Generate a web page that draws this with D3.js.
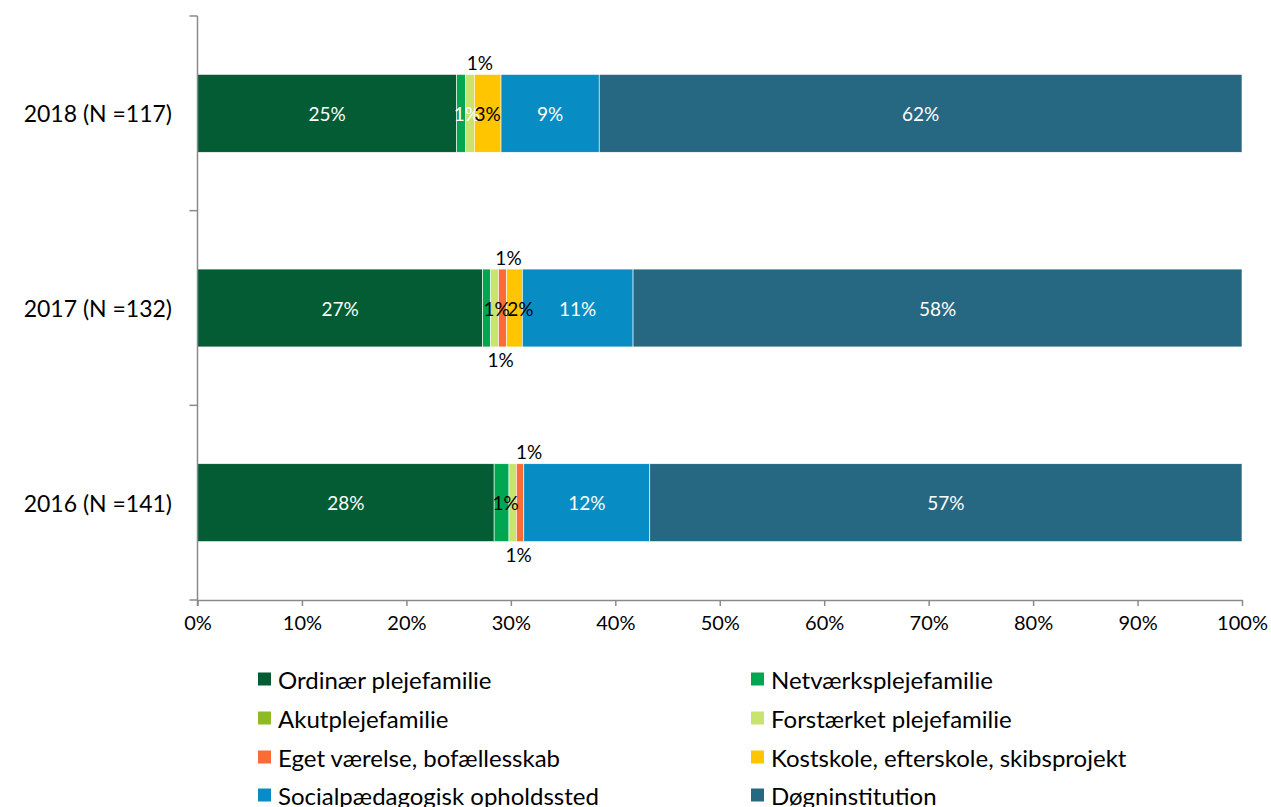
<!DOCTYPE html>
<html>
<head>
<meta charset="utf-8">
<script src="https://cdn.jsdelivr.net/npm/d3@7"></script>
<style>
  html, body { margin: 0; padding: 0; background: #fff; }
  svg { display: block; font-family: Lato, "Open Sans", sans-serif; }
</style>
</head>
<body>
<svg id="chart" width="1271" height="807"></svg>
<script>
// ---- data ----
const categories = ["2018 (N =117)", "2017 (N =132)", "2016 (N =141)"];
const seriesNames = [
  "Ordinær plejefamilie", "Netværksplejefamilie", "Akutplejefamilie",
  "Forstærket plejefamilie", "Eget værelse, bofællesskab",
  "Kostskole, efterskole, skibsprojekt", "Socialpædagogisk opholdssted", "Døgninstitution"
];
const ordinaer    = [24.8, 27.3, 28.4];
const netvaerk    = [0.85, 0.76, 1.42];
const akut        = [0, 0, 0];
const forstaerket = [0.85, 0.76, 0.71];
const eget        = [0, 0.76, 0.71];
const kostskole   = [2.56, 1.52, 0];
const social      = [9.4, 10.6, 12.06];
const doegn       = [61.54, 58.3, 56.7];
const xTicks = [0, 10, 20, 30, 40, 50, 60, 70, 80, 90, 100];

// ---- style ----
const colors = ["#035c33", "#00a650", "#8fba24", "#c8e46e", "#fb6b35", "#ffc600", "#078dc3", "#266882"];
const darkText = [false, false, true, true, false, true, false, false];
const labelTweaks = {
  "0-1": {pos: "inside", dx: 6, color: "#fff"},
  "0-3": {pos: "above", dx: 10},
  "1-1": {pos: "below", dx: 14},
  "1-3": {pos: "inside", dx: 2},
  "1-4": {pos: "above", dx: 6},
  "1-5": {pos: "inside", dx: 6},
  "2-1": {pos: "inside", dx: 4, color: "#000"},
  "2-3": {pos: "below", dx: 6},
  "2-4": {pos: "above", dx: 9}
};

(function () {
const seriesValues = [ordinaer, netvaerk, akut, forstaerket, eget, kostskole, social, doegn];
const table = categories.map((c, i) => {
  const row = {cat: c};
  seriesNames.forEach((s, j) => row[s] = seriesValues[j][i]);
  return row;
});

const svg = d3.select("#chart");
const mLeft = 197.5, mRight = 1242, mTop = 16, mBottom = 600;

const x = d3.scaleLinear().domain([0, 100]).range([mLeft, mRight]);
const y = d3.scaleBand().domain(categories).range([mTop, mBottom]).paddingInner(0).paddingOuter(0);
const barH = y.bandwidth() * 0.4;

const stack = d3.stack().keys(seriesNames)(table);

const g = svg.append("g");
stack.forEach((layer, j) => {
  g.selectAll(null).data(layer).join("rect")
    .attr("x", d => x(d[0]))
    .attr("y", d => y(d.data.cat) + (y.bandwidth() - barH) / 2)
    .attr("width", d => Math.max(0, x(d[1]) - x(d[0])))
    .attr("height", barH)
    .attr("fill", colors[j])
    .attr("stroke", d => (d[1] - d[0]) > 0 ? "#ffffff" : "none")
    .attr("stroke-width", 0.6);
});

const axisColor = "#8a8a8a";
const xAxis = svg.append("g").attr("transform", `translate(0,${mBottom})`)
  .call(d3.axisBottom(x).tickValues(xTicks).tickFormat(d => d + "%").tickSize(6).tickSizeOuter(0));
xAxis.select(".domain").attr("stroke", axisColor).attr("stroke-width", 1.5);
xAxis.selectAll(".tick line").attr("stroke", axisColor).attr("stroke-width", 1.5);
xAxis.selectAll(".tick text").attr("fill", "#000").attr("font-size", 20)
  .attr("font-family", "Lato, sans-serif").attr("dy", "1.05em").attr("y", 9);

const yTickPos = [mTop].concat(categories.map(c => y(c) + y.bandwidth()));
svg.append("line").attr("x1", mLeft).attr("x2", mLeft).attr("y1", mTop).attr("y2", mBottom + 6)
  .attr("stroke", axisColor).attr("stroke-width", 1.5);
svg.selectAll(".ytick").data(yTickPos).join("line")
  .attr("x1", mLeft - 8).attr("x2", mLeft).attr("y1", d => d).attr("y2", d => d)
  .attr("stroke", axisColor).attr("stroke-width", 1.5);
svg.selectAll(".ylab").data(categories).join("text")
  .attr("x", 172).attr("y", d => y(d) + y.bandwidth() / 2)
  .attr("text-anchor", "end").attr("dominant-baseline", "central")
  .attr("font-size", 23).attr("fill", "#000").text(d => d);

stack.forEach((layer, j) => {
  layer.forEach((d, i) => {
    const v = d[1] - d[0];
    if (v <= 0) return;
    const tw = labelTweaks[i + "-" + j] || {pos: "inside", dx: 0};
    const cx = (x(d[0]) + x(d[1])) / 2 + (tw.dx || 0);
    const yT = y(d.data.cat) + (y.bandwidth() - barH) / 2;
    let cy = yT + barH / 2;
    let col = darkText[j] ? "#000" : "#fff";
    if (tw.pos === "above") { cy = yT - 12; col = "#000"; }
    if (tw.pos === "below") { cy = yT + barH + 13; col = "#000"; }
    if (tw.color) col = tw.color;
    svg.append("text").attr("x", cx).attr("y", cy)
      .attr("text-anchor", "middle").attr("dominant-baseline", "central")
      .attr("font-size", 19).attr("fill", col)
      .text(Math.round(v) + "%");
  });
});

const legX = [258, 751];
const legY = [679, 718, 757, 795];
seriesNames.forEach((s, j) => {
  const lx = legX[j % 2], ly = legY[Math.floor(j / 2)];
  svg.append("rect").attr("x", lx).attr("y", ly - 6.5).attr("width", 13).attr("height", 13).attr("fill", colors[j]);
  svg.append("text").attr("x", lx + 20).attr("y", ly).attr("dominant-baseline", "central")
    .attr("font-size", 24).attr("fill", "#000").text(s);
});
})();
</script>
</body>
</html>
